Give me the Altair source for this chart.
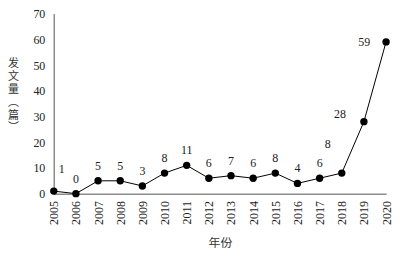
import altair as alt
import pandas as pd

years = [str(y) for y in range(2005, 2021)]
counts = [1, 0, 5, 5, 3, 8, 11, 6, 7, 6, 8, 4, 6, 8, 28, 59]

df = pd.DataFrame({"year": years, "count": counts})

serif = "Liberation Serif"
cjk = "Noto Sans CJK SC"

x = alt.X(
    "year:O",
    scale=alt.Scale(type="point", padding=0),
    axis=alt.Axis(
        title="年份",
        titleFont=cjk,
        titleFontSize=12,
        titleFontWeight="normal",
        titleColor="#333",
        titleY=49,
        titleBaseline="middle",
        labelAngle=-90,
        labelFont=serif,
        labelFontSize=12,
        labelColor="#222",
        labelPadding=7,
        ticks=False,
        domainColor="#8c8c8c",
        domainWidth=1.5,
        grid=False,
    ),
)
y = alt.Y(
    "count:Q",
    scale=alt.Scale(domain=[0, 70], nice=False),
    axis=alt.Axis(
        title=["发", "文", "量", "︵", "篇", "︶"],
        titleFont=cjk,
        titleFontSize=11,
        titleFontWeight="normal",
        titleColor="#333",
        titleAngle=0,
        titleX=-41,
        titleY=44,
        titleAlign="center",
        titleBaseline="top",
        titleLineHeight=13,
        values=list(range(0, 71, 10)),
        labelFont=serif,
        labelFontSize=12,
        labelColor="#222",
        labelPadding=9,
        ticks=False,
        domainColor="#8c8c8c",
        domainWidth=1.5,
        grid=False,
    ),
)

base = alt.Chart(df).encode(x=x, y=y)

line = base.mark_line(color="black", strokeWidth=1)
points = base.mark_point(filled=True, color="black", size=55, opacity=1)

def labels(sel, dx, dy):
    return base.transform_filter(
        alt.FieldOneOfPredicate(field="year", oneOf=sel)
    ).mark_text(font=serif, fontSize=12, color="#222", dx=dx, dy=dy).encode(
        text="count:Q"
    )

normal = [y_ for y_ in years if y_ not in ("2005", "2018", "2019", "2020")]

chart = alt.layer(
    line,
    points,
    labels(normal, 0, -15),
    labels(["2005"], 8, -22),
    labels(["2018"], -14, -29),
    labels(["2019"], -24, -8),
    labels(["2020"], -22, 0),
).properties(
    width=334,
    height=181,
    autosize=alt.AutoSizeParams(type="none"),
    padding={"left": 46, "top": 5, "right": 15, "bottom": 55},
).configure_view(stroke=None)

chart.save("out.html", embed_options={"renderer": "svg", "actions": False})
